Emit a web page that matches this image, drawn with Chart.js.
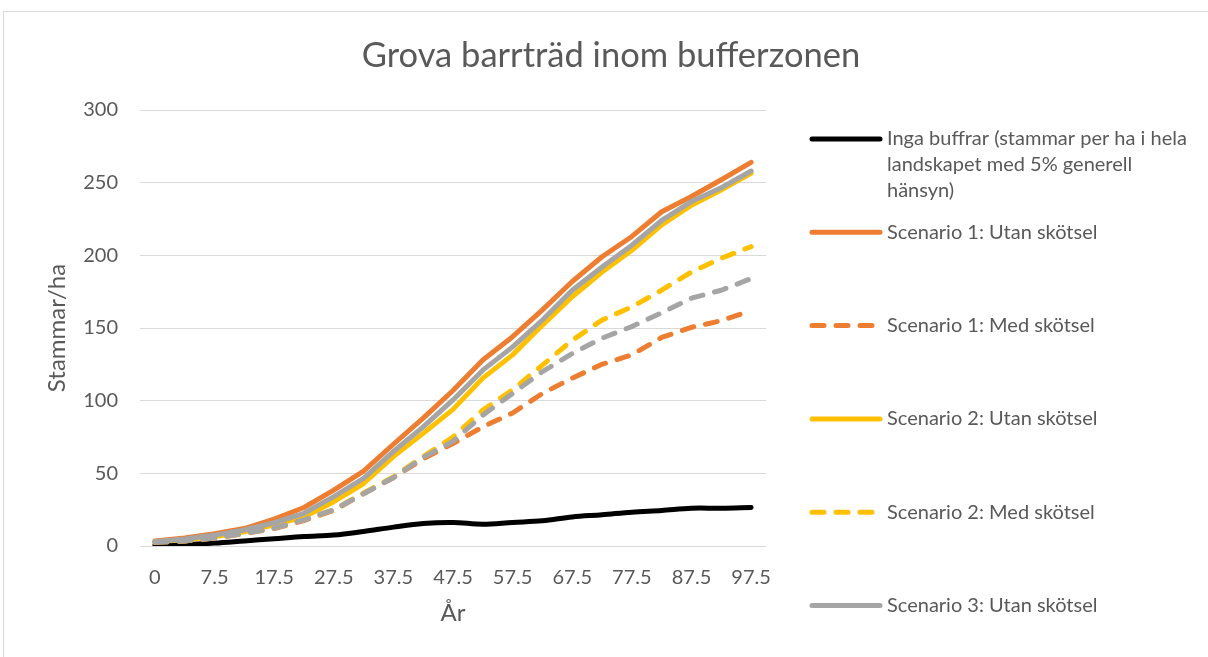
<!DOCTYPE html>
<html lang="sv">
<head>
<meta charset="utf-8">
<title>Grova barrträd inom bufferzonen</title>
<script src="https://cdn.jsdelivr.net/npm/chart.js@4.4.1/dist/chart.umd.min.js"></script>
<style>
    html, body { margin: 0; padding: 0; background: #fff; }
    #wrap { position: relative; width: 1208px; height: 657px; overflow: hidden; }
    #frame { position: absolute; left: 3px; top: 11px; width: 1300px; height: 800px;
             border-left: 1px solid #d9d9d9; border-top: 1px solid #d9d9d9; }
    canvas { position: absolute; left: 0; top: 0; }
</style>
</head>
<body>
<div id="wrap">
    <div id="frame"></div>
    <canvas id="chart" width="1208" height="657"></canvas>
</div>
<script>
const years = ['0', '2.5', '7.5', '12.5', '17.5', '22.5', '27.5', '32.5', '37.5', '42.5', '47.5',
    '52.5', '57.5', '62.5', '67.5', '72.5', '77.5', '82.5', '87.5', '92.5', '97.5'];

const ingaBuffrar = [0.7, 1, 2, 3.5, 5, 6.5, 7.5, 10, 13, 15.5, 16.2, 15, 16.2, 17.3, 20, 21.5, 23.3, 24.5, 26, 26, 26.5];
const s1Utan = [3.5, 5.5, 8.5, 12, 18.5, 26.5, 38.5, 51.5, 70, 88, 107, 128, 144, 162.5, 182, 199, 213, 230, 240.5, 252, 264];
const s1Med = [2.5, 3.5, 5.5, 8.5, 12, 17.5, 24.5, 36, 47, 60, 70.5, 82, 91.5, 105, 115.5, 125, 131.5, 143.5, 150.5, 155, 162];
const s2Utan = [3, 4.3, 6.4, 9.8, 14.5, 20, 30.5, 43, 61.5, 77.5, 94, 115.5, 131.5, 152, 171.5, 188.5, 203.5, 221, 234.5, 245, 256.5];
const s2Med = [2.5, 3.5, 5.5, 9, 12.5, 18, 25, 36.5, 47.5, 61.5, 75, 93.5, 107.5, 124.5, 141.5, 155.5, 164.5, 176, 188.5, 198, 206];
const s3Utan = [3, 4.8, 7.5, 11, 16, 22.5, 34, 46.5, 65, 82, 100.5, 121, 137, 155.5, 176, 192, 207, 224, 237, 246.5, 258];
const s3Med = [2.5, 3.5, 5.5, 8.8, 12.3, 18, 25, 36, 47, 61, 72, 90, 105, 120, 132.5, 143, 151, 160.5, 170.5, 176, 184];

const yTicks = [0, 50, 100, 150, 200, 250, 300];

const TEXT = '#595959';
const GRID = '#d9d9d9';
const FONT = 'Lato, Carlito, Calibri, sans-serif';

const series = [
    { label: 'Inga buffrar (stammar per ha i hela|landskapet med 5% generell|hänsyn)', data: ingaBuffrar, color: '#000000', dashed: false, tension: 0.35 },
    { label: 'Scenario 1: Utan skötsel', data: s1Utan, color: '#ed7d31', dashed: false },
    { label: 'Scenario 1: Med skötsel', data: s1Med, color: '#ed7d31', dashed: true },
    { label: 'Scenario 2: Utan skötsel', data: s2Utan, color: '#ffc000', dashed: false },
    { label: 'Scenario 2: Med skötsel', data: s2Med, color: '#ffc000', dashed: true },
    { label: 'Scenario 3: Utan skötsel', data: s3Utan, color: '#a5a5a5', dashed: false },
    { label: 'Scenario 3: Med skötsel', data: s3Med, color: '#a5a5a5', dashed: true }
];

const DASH = [12, 12];

// title and the Excel-style legend on the right
const decorations = {
    id: 'decorations',
    afterDraw(chart) {
        const ctx = chart.ctx;
        ctx.save();
        ctx.fillStyle = TEXT;
        ctx.font = '34.5px ' + FONT;
        ctx.textAlign = 'center';
        ctx.textBaseline = 'alphabetic';
        ctx.fillText('Grova barrträd inom bufferzonen', 611, 67);

        ctx.font = '20px ' + FONT;
        ctx.textAlign = 'left';
        ctx.textBaseline = 'middle';
        let y = 139;
        series.forEach(s => {
            ctx.beginPath();
            ctx.strokeStyle = s.color;
            ctx.lineWidth = 5;
            ctx.lineCap = 'round';
            ctx.setLineDash(s.dashed ? DASH : []);
            ctx.moveTo(812, y);
            ctx.lineTo(880, y);
            ctx.stroke();
            ctx.setLineDash([]);
            s.label.split('|').forEach((line, i) => {
                ctx.fillText(line, 887, y + i * 25.8);
            });
            y += 93.3;
        });
        ctx.restore();
    }
};

new Chart(document.getElementById('chart'), {
    type: 'line',
    data: {
        labels: years,
        datasets: series.map((s, i) => ({
            label: s.label.replace(/\|/g, ' '),
            data: s.data,
            borderColor: s.color,
            backgroundColor: s.color,
            borderWidth: 5,
            borderDash: s.dashed ? DASH : [],
            borderCapStyle: 'round',
            borderJoinStyle: 'round',
            pointRadius: 0,
            tension: s.tension || 0,
            fill: false,
            order: series.length - i
        }))
    },
    options: {
        responsive: false,
        animation: false,
        layout: { padding: { left: 0, top: 110, right: 442, bottom: 0 } },
        plugins: {
            legend: { display: false },
            title: { display: false },
            tooltip: { enabled: false }
        },
        scales: {
            x: {
                offset: true,
                grid: { display: false, drawTicks: false },
                border: { display: false },
                ticks: {
                    autoSkip: false,
                    maxRotation: 0,
                    padding: 20,
                    color: TEXT,
                    font: { family: FONT, size: 20 },
                    callback: (v, i) => (i % 2 === 0 ? years[i] : '')
                },
                title: {
                    display: true,
                    text: 'År',
                    color: TEXT,
                    font: { family: FONT, size: 24 },
                    padding: { top: 0, bottom: 29 }
                },
                afterFit: scale => { scale.height = 111; }
            },
            y: {
                min: 0,
                max: 300,
                afterBuildTicks: scale => { scale.ticks = yTicks.map(v => ({ value: v })); },
                grid: { color: GRID, lineWidth: 1, drawTicks: false },
                border: { display: false },
                ticks: {
                    padding: 22,
                    color: TEXT,
                    font: { family: FONT, size: 20 }
                },
                title: {
                    display: true,
                    text: 'Stammar/ha',
                    color: TEXT,
                    font: { family: FONT, size: 24 },
                    padding: { top: 43, bottom: 0 }
                },
                afterFit: scale => { scale.width = 140; }
            }
        }
    },
    plugins: [decorations]
});
</script>
</body>
</html>
